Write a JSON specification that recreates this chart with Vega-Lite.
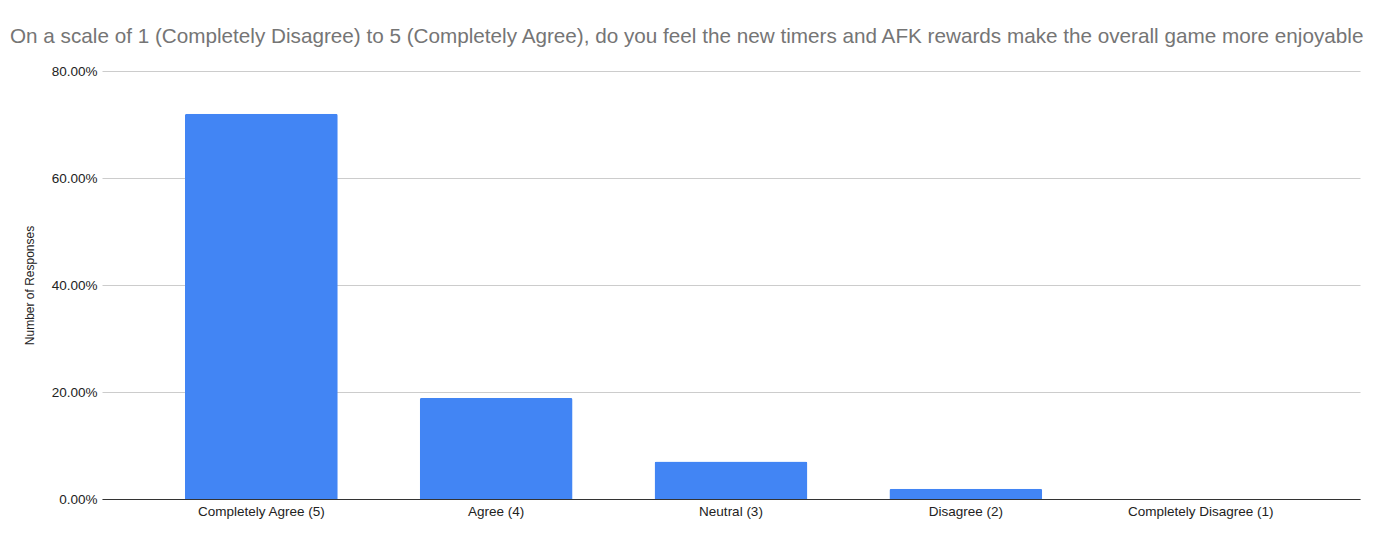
{
  "$schema": "https://vega.github.io/schema/vega-lite/v6.json",
  "autosize": "none",
  "width": 1258,
  "height": 428,
  "padding": {"left": 102, "top": 71, "right": 24, "bottom": 43},
  "background": "white",
  "title": {
    "text": "On a scale of 1 (Completely Disagree) to 5 (Completely Agree), do you feel the new timers and AFK rewards make the overall game more enjoyable",
    "anchor": "start",
    "frame": "group",
    "dx": -92,
    "offset": 16,
    "font": "Liberation Sans",
    "fontSize": 20.7,
    "fontWeight": "normal",
    "color": "#757575"
  },
  "data": {
    "values": [
      {"response": "Completely Agree (5)", "share": 0.72},
      {"response": "Agree (4)", "share": 0.189},
      {"response": "Neutral (3)", "share": 0.07},
      {"response": "Disagree (2)", "share": 0.019},
      {"response": "Completely Disagree (1)", "share": 0}
    ]
  },
  "mark": {"type": "bar", "color": "#4285F4", "cornerRadiusTopLeft": 2, "cornerRadiusTopRight": 2},
  "encoding": {
    "x": {
      "field": "response",
      "type": "nominal",
      "sort": null,
      "title": null,
      "scale": {"paddingInner": 0.349, "paddingOuter": 0.353},
      "axis": {
        "labelAngle": 0,
        "labelFont": "Liberation Sans",
        "labelFontSize": 13.5,
        "labelColor": "#222222",
        "labelPadding": 5,
        "ticks": false,
        "domainColor": "#333333",
        "domainWidth": 1
      }
    },
    "y": {
      "field": "share",
      "type": "quantitative",
      "title": "Number of Responses",
      "scale": {"domain": [0, 0.8]},
      "axis": {
        "format": ".2%",
        "values": [0, 0.2, 0.4, 0.6, 0.8],
        "domain": false,
        "ticks": false,
        "labelPadding": 5,
        "labelFont": "Liberation Sans",
        "labelFontSize": 13.5,
        "labelColor": "#222222",
        "gridColor": "#cccccc",
        "titleFont": "Liberation Sans",
        "titleFontSize": 12,
        "titleFontWeight": "normal",
        "titleColor": "#222222",
        "titlePadding": 15
      }
    }
  },
  "config": {"view": {"stroke": null}}
}
